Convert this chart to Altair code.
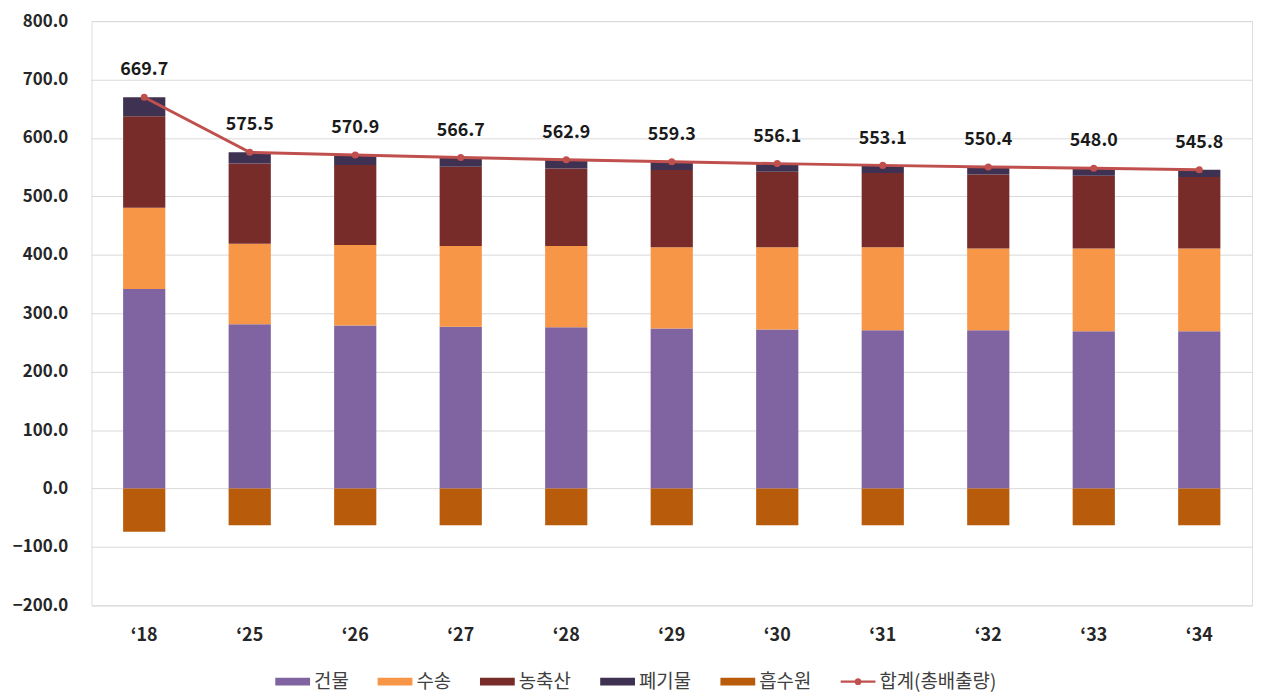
import altair as alt
import pandas as pd

years = ["\u201818", "\u201825", "\u201826", "\u201827", "\u201828", "\u201829",
         "\u201830", "\u201831", "\u201832", "\u201833", "\u201834"]
building = [341.5, 281.0, 279.0, 277.0, 276.0, 274.0, 272.0, 271.0, 271.0, 269.0, 269.0]
transport = [139.0, 138.0, 138.0, 138.0, 139.0, 139.0, 141.0, 142.0, 140.0, 142.0, 142.0]
agri = [156.7, 137.5, 136.9, 135.7, 132.9, 132.3, 129.1, 127.1, 126.4, 124.5, 122.3]
waste = [32.5, 19.0, 17.0, 16.0, 15.0, 14.0, 14.0, 13.0, 13.0, 12.5, 12.5]
sink = [-74.0, -63.0, -63.0, -63.0, -63.0, -63.0, -63.0, -63.0, -63.0, -63.0, -63.0]
total = [669.7, 575.5, 570.9, 566.7, 562.9, 559.3, 556.1, 553.1, 550.4, 548.0, 545.8]

sectors = ["건물", "수송", "농축산", "폐기물", "흡수원"]
total_name = "합계(총배출량)"
colors = ["#8064A2", "#F79646", "#772C2A", "#3F3151", "#B85B0A", "#C0504D"]

rows = []
for i, yr in enumerate(years):
    for k, (name, vals) in enumerate(zip(sectors, [building, transport, agri, waste, sink])):
        rows.append({"year": yr, "sector": name, "value": vals[i], "ord": k})
bars_df = pd.DataFrame(rows)
tot_df = pd.DataFrame({"year": years, "total": total, "sector": [total_name] * len(years)})

FONT = "Noto Sans CJK KR"
RECT = "M-1,-0.22H1V0.22H-1Z"
LINE = ("M-1,-0.07H1V0.07H-1Z "
        "M-0.2,0A0.2,0.2 0 1,1 0.2,0A0.2,0.2 0 1,1 -0.2,0Z")

color_scale = alt.Scale(domain=sectors + [total_name], range=colors)
legend = alt.Legend(
    title=None, orient="none", direction="horizontal", legendX=185, legendY=647,
    padding=0, symbolSize=1225, columnPadding=29, labelOffset=4,
    labelFont=FONT, labelFontSize=19, labelColor="#404040", symbolStrokeWidth=0,
    symbolType={"expr": f"datum.value === '{total_name}' ? '{LINE}' : '{RECT}'"},
)

x_enc = alt.X("year:N", sort=years,
              scale=alt.Scale(paddingInner=0.6, paddingOuter=0.3),
              axis=alt.Axis(title=None, labelAngle=0, domain=False, ticks=False,
                            labelFont=FONT, labelFontSize=18, labelFontWeight="bold",
                            labelColor="#262626", labelPadding=21))
y_scale = alt.Scale(domain=[-200, 800], nice=False)

bars = alt.Chart(bars_df).mark_bar().encode(
    x=x_enc,
    y=alt.Y("value:Q", stack=True, scale=y_scale,
            axis=alt.Axis(title=None, values=list(range(-200, 801, 100)), format=".1f",
                          domain=False, ticks=False, gridColor="#D9D9D9",
                          labelFont=FONT, labelFontSize=17, labelFontWeight="bold",
                          labelColor="#262626", labelPadding=24)),
    color=alt.Color("sector:N", scale=color_scale, legend=legend),
    order=alt.Order("ord:Q", sort="ascending"),
)

line = alt.Chart(tot_df).mark_line(strokeWidth=3).encode(
    x=alt.X("year:N", sort=years),
    y=alt.Y("total:Q", scale=y_scale),
    color=alt.Color("sector:N", scale=color_scale, legend=legend),
)
points = alt.Chart(tot_df).mark_circle(size=50, opacity=1).encode(
    x=alt.X("year:N", sort=years),
    y=alt.Y("total:Q", scale=y_scale),
    color=alt.Color("sector:N", scale=color_scale, legend=legend),
)
labels = alt.Chart(tot_df).mark_text(dy=-27, font=FONT, fontSize=18, fontWeight="bold",
                                     color="#1a1a1a").encode(
    x=alt.X("year:N", sort=years),
    y=alt.Y("total:Q", scale=y_scale),
    text=alt.Text("total:Q", format=".1f"),
)

chart = alt.layer(bars, line, points, labels).properties(
    width=1168, height=588,
    autosize=alt.AutoSizeParams(type="none"),
    padding={"left": 84, "top": 11, "right": 5, "bottom": 90},
).configure_view(stroke=None).configure(background="white")

chart.save("out.html", embed_options={"renderer": "svg", "actions": False})
